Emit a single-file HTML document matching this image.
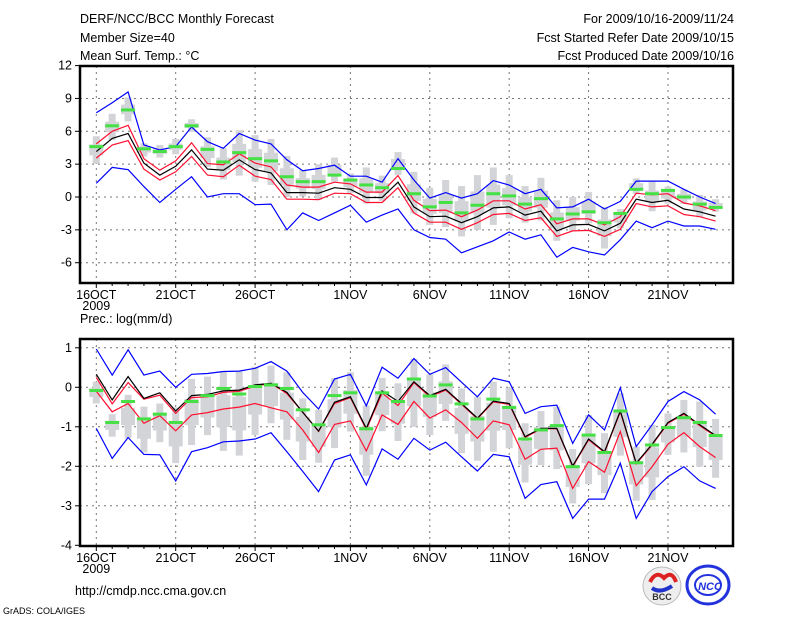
<!DOCTYPE html>
<html><head><meta charset="utf-8"><style>
body{margin:0;background:#fff;width:800px;height:618px;overflow:hidden;font-family:"Liberation Sans",sans-serif}
svg text{font-family:"Liberation Sans",sans-serif;font-size:12.5px;fill:#000}
</style></head><body>
<svg id="chart" width="800" height="618" viewBox="0 0 800 618">
<text x="80" y="23">DERF/NCC/BCC Monthly Forecast</text>
<text x="80" y="42">Member Size=40</text>
<text x="80" y="60">Mean Surf. Temp.: °C</text>
<text x="734" y="23" text-anchor="end">For 2009/10/16-2009/11/24</text>
<text x="734" y="42" text-anchor="end">Fcst Started Refer Date 2009/10/15</text>
<text x="734" y="60" text-anchor="end">Fcst Produced Date 2009/10/16</text>
<text x="80" y="323">Prec.: log(mm/d)</text>
<text x="75" y="595">http://cmdp.ncc.cma.gov.cn</text>
<text x="3" y="614" style="font-size:9px">GrADS: COLA/IGES</text>
<g>
<circle cx="662" cy="586" r="19" fill="#eee" stroke="#bbb"/>
<path d="M650 582 q6 -12 14 -4 q8 -8 12 4" stroke="#d22" stroke-width="4" fill="none"/>
<path d="M652 588 q8 6 20 -2" stroke="#23c" stroke-width="4" fill="none"/>
<text x="662" y="600" text-anchor="middle" style="font-size:9px;font-weight:bold;fill:#333">BCC</text>
</g>
<g>
<ellipse cx="708" cy="585" rx="21" ry="19" fill="none" stroke="#23d" stroke-width="3"/>
<ellipse cx="708" cy="585" rx="13" ry="10" fill="#fff" stroke="#23d" stroke-width="2"/>
<text x="710" y="590" text-anchor="middle" style="font-size:11px;font-weight:bold;font-style:italic;fill:#23d">NCC</text>
</g>
</svg>
<script>
// ---- top panel data (temperature) ----
const days=["16OCT","","","","","21OCT","","","","","26OCT","","","","","","1NOV","","","","","6NOV","","","","","11NOV","","","","","16NOV","","","","","21NOV","","",""];
const tTicks=[12,9,6,3,0,-3,-6];
const tBlueHi=[7.7,8.6,9.6,4.75,4.3,4.6,6.4,5.05,4.45,5.8,5.2,4.85,3.4,2.4,2.6,2.9,1.9,1.9,1.35,3.5,1.55,-0.1,0.4,-0.1,0.3,1.5,1.1,0.3,0.7,-1.0,-0.9,-0.2,-1.1,-0.4,1.45,1.45,1.45,0.7,0,-0.6];
const tBlueLo=[1.25,2.7,2.5,0.95,-0.5,0.7,1.85,0,0.3,0.3,-0.7,-0.65,-3.0,-1.45,-2.15,-1.45,-0.75,-2.3,-1.65,-1.1,-3.0,-3.7,-3.85,-5.1,-4.55,-4.0,-3.2,-3.85,-3.45,-5.5,-4.6,-5.0,-5.3,-3.9,-2.2,-2.8,-2.2,-2.65,-2.65,-2.95];
const tMean=[4.15,5.35,5.8,3.1,2.0,2.8,4.3,2.55,2.45,3.4,2.5,2.2,0.4,0.4,0.35,0.85,0.7,-0.05,-0.05,1.35,-0.9,-1.8,-1.75,-2.35,-1.8,-1.0,-0.9,-1.65,-1.3,-3.1,-2.55,-2.5,-3.1,-2.4,-0.2,-0.5,-0.3,-1.1,-1.35,-1.75];
const tRedHi=[4.85,6.0,6.55,3.5,2.45,3.3,4.95,3.05,2.95,3.95,3.1,2.75,1.1,0.9,0.9,1.35,1.2,0.45,0.45,1.95,-0.3,-1.25,-1.2,-1.8,-1.2,-0.35,-0.35,-1.1,-0.7,-2.45,-2.0,-2.0,-2.55,-1.8,0.35,0.2,0.3,-0.55,-0.8,-1.25];
const tRedLo=[3.55,4.75,5.15,2.55,1.55,2.3,3.7,2.0,1.85,2.9,1.9,1.6,-0.2,-0.2,-0.25,0.35,0.3,-0.5,-0.5,0.85,-1.45,-2.3,-2.3,-2.95,-2.35,-1.6,-1.5,-2.15,-1.9,-3.6,-3.1,-3.05,-3.6,-2.95,-0.6,-0.9,-0.8,-1.6,-1.8,-2.2];
const tGreen=[4.6,6.5,7.95,4.4,4.15,4.6,6.5,4.35,3.2,4.05,3.5,3.3,1.85,1.4,1.4,2.0,1.55,1.1,0.85,2.6,0.3,-0.9,-0.5,-1.45,-0.75,0.3,0.1,-0.65,-0.15,-2.0,-1.55,-1.35,-2.35,-1.5,0.7,0.3,0.6,0,-0.65,-0.95];
const tBarHi=[5.55,7.6,9.1,4.9,4.75,5.3,7.1,5.45,4.45,6.1,5.65,5.3,3.75,2.45,3.0,3.6,2.15,2.7,1.95,4.1,2.3,0.85,1.55,1.0,2.0,2.7,2.0,1.0,1.75,-0.3,0,0.45,-0.9,-1.1,1.7,1.4,0.95,0.7,0.2,-0.2];
const tBarLo=[3.05,5.2,6.9,3.7,3.6,3.9,5.95,2.75,1.6,1.95,1.4,1.1,0,0.05,-0.25,1.4,0.35,-0.6,-0.35,2.0,-1.5,-2.55,-2.75,-3.6,-3.0,-2.55,-1.95,-2.35,-2.15,-4.0,-3.1,-2.4,-4.7,-2.85,0.25,-1.3,-0.6,-0.65,-1.85,-1.35];
// ---- bottom panel data (precipitation) ----
const pTicks=[1,0,-1,-2,-3,-4];
const pBlueHi=[0.97,0.31,0.95,0.31,0.41,0,0.33,0.35,0.4,0.41,0.48,0.65,0.41,-0.13,-0.55,0.21,0.33,-0.47,0.51,0.23,0.73,0.33,0.5,0.13,-0.24,0.23,0.14,-0.66,-0.49,-0.45,-1.42,-0.7,-1.08,-0.01,-1.5,-0.95,-0.36,-0.11,-0.32,-0.68];
const pBlueLo=[-1.04,-1.8,-1.27,-1.7,-1.71,-2.37,-1.63,-1.53,-1.38,-1.36,-1.31,-1.15,-1.63,-2.13,-2.64,-1.84,-1.71,-2.47,-1.56,-1.82,-1.29,-1.59,-1.39,-1.76,-2.12,-1.7,-1.76,-2.81,-2.46,-2.39,-3.32,-2.83,-2.83,-1.92,-3.32,-2.64,-2.26,-2.01,-2.37,-2.56];
const pMean=[0.33,-0.32,0.27,-0.28,-0.14,-0.6,-0.21,-0.18,-0.09,-0.07,0.06,0.1,-0.13,-0.63,-1.11,-0.38,-0.24,-1.04,-0.09,-0.36,0.14,-0.21,-0.05,-0.41,-0.78,-0.35,-0.41,-1.25,-1.04,-1.04,-1.99,-1.31,-1.63,-0.6,-1.92,-1.44,-0.89,-0.66,-0.95,-1.22];
const pRedHi=[0.25,-0.42,0.12,-0.3,-0.2,-0.66,-0.26,-0.24,-0.13,-0.1,0.03,0.1,-0.16,-0.63,-1.12,-0.41,-0.26,-1.07,-0.15,-0.46,0.12,-0.24,-0.07,-0.43,-0.8,-0.37,-0.43,-1.27,-1.05,-1.05,-2.01,-1.33,-1.65,-0.62,-1.94,-1.46,-0.91,-0.68,-0.97,-1.24];
const pRedLo=[-0.1,-0.62,-0.41,-0.91,-0.72,-1.1,-0.7,-0.64,-0.55,-0.5,-0.41,-0.52,-0.62,-1.08,-1.65,-0.94,-0.85,-1.61,-0.7,-0.94,-0.36,-0.78,-0.57,-0.89,-1.29,-0.85,-0.95,-1.82,-1.57,-1.54,-2.56,-1.88,-2.15,-1.12,-2.49,-2.01,-1.44,-1.15,-1.5,-1.78];
const pGreen=[-0.08,-0.89,-0.36,-0.8,-0.68,-0.89,-0.36,-0.21,-0.03,-0.17,0.02,0.06,-0.03,-0.57,-0.95,-0.21,-0.14,-1.05,-0.14,-0.36,0.21,-0.22,0.06,-0.42,-0.8,-0.3,-0.51,-1.31,-1.08,-0.97,-2.01,-1.21,-1.65,-0.6,-1.91,-1.46,-1.02,-0.77,-0.89,-1.22];
const pBarHi=[0.14,-0.68,-0.19,-0.49,-0.41,-0.51,0.21,0.27,0.4,0.4,0.52,0.55,0.38,-0.28,-0.57,0.23,0.38,-0.46,0.24,0.1,0.72,0.33,0.58,-0.03,-0.24,0.14,-0.01,-0.91,-0.6,-0.49,-1.56,-0.7,-1.16,-0.15,-1.5,-0.95,-0.66,-0.32,-0.36,-0.8];
const pBarLo=[-0.41,-1.25,-1.29,-1.65,-1.39,-1.92,-1.46,-1.21,-1.61,-1.73,-1.21,-0.91,-1.33,-1.84,-1.91,-1.54,-1.12,-2.24,-1.11,-1.36,-1.0,-1.21,-0.85,-1.67,-1.86,-1.63,-1.54,-2.41,-1.97,-2.07,-2.94,-2.45,-2.68,-1.73,-2.87,-2.85,-1.71,-1.65,-2.01,-2.29];

const NS='http://www.w3.org/2000/svg';
const svg=document.getElementById('chart');
function mk(tag,attrs,parent){const e=document.createElementNS(NS,tag);for(const k in attrs)e.setAttribute(k,attrs[k]);(parent||svg).appendChild(e);return e;}
const X0=96.3,DX=15.88,L=80,R=733;
function xs(d){return X0+d*DX;}

function panel(cfg){
  const g=mk('g',{});
  
  
  const ys=v=>cfg.y0-v*cfg.k;
  // grid
  cfg.ticks.forEach(t=>{
    const y=ys(t);
    if(y>cfg.top+2&&y<cfg.bot-2){const gl=mk('line',{x1:L,x2:R,y1:y,y2:y,stroke:'#777','stroke-dasharray':'2,4'},g);
      
      }
    const tk=mk('line',{x1:L-5,x2:L,y1:y,y2:y,stroke:'#000'},g);
    
    
    const tl=mk('text',{x:L-8,y:y+4,'text-anchor':'end'},g);
    tl.textContent=String(t);
    
    
  });
  days.forEach((lab,d)=>{
    const x=xs(d);
    const mt=mk('line',{x1:x,x2:x,y1:cfg.bot,y2:cfg.bot+(lab?5:3),stroke:'#000'},g);
    
    
    if(lab){
      const vl=mk('line',{x1:x,x2:x,y1:cfg.top,y2:cfg.bot,stroke:'#777','stroke-dasharray':'2,4'},g);
      
      
      const tl=mk('text',{x:x,y:cfg.bot+16,'text-anchor':'middle'},g);
      tl.textContent=lab;
      
      
    }
  });
  const yr=mk('text',{x:xs(0),y:cfg.bot+27,'text-anchor':'middle'},g);
  yr.textContent='2009';
  
  
  // bars
  cfg.hi.forEach((h,d)=>{
    const lo=cfg.lo[d],x=xs(d),y1=ys(h),y2=ys(lo);
    const b=mk('rect',{x:x-3.5,y:y1,width:7,height:y2-y1,fill:'#d3d4d8'},g);
    
    
    const m1=y1+(y2-y1)*0.3,m2=y1+(y2-y1)*0.7;
    const w=mk('rect',{x:x-7,y:m1,width:14,height:m2-m1,fill:'#d3d4d8'},g);
    
    
  });
  // lines
  [[cfg.blueHi,'#0000ff','upper-bound-line'],[cfg.blueLo,'#0000ff','lower-bound-line'],[cfg.redHi,'#ff1030','upper-std-line'],[cfg.redLo,'#ff1030','lower-std-line'],[cfg.mean,'#000','ensemble-mean-line']].forEach(s=>{
    const p=mk('polyline',{points:s[0].map((v,d)=>xs(d).toFixed(1)+','+ys(v).toFixed(1)).join(' '),fill:'none',stroke:s[1],'stroke-width':1.2},g);
    
    
  });
  cfg.green.forEach((v,d)=>{
    const r=mk('rect',{x:xs(d)-7,y:ys(v)-1.5,width:14,height:3,fill:'#44e044'},g);
    
    
  });
  const f=mk('rect',{x:L,y:cfg.top,width:R-L,height:cfg.bot-cfg.top,fill:'none',stroke:'#000','stroke-width':2.5},g);
  
  
}
panel({name:'temperature-panel',top:66,bot:283,y0:197,k:10.95,ticks:tTicks,hi:tBarHi,lo:tBarLo,blueHi:tBlueHi,blueLo:tBlueLo,redHi:tRedHi,redLo:tRedLo,mean:tMean,green:tGreen});
panel({name:'precipitation-panel',top:339,bot:546,y0:387.3,k:39.5,ticks:pTicks,hi:pBarHi,lo:pBarLo,blueHi:pBlueHi,blueLo:pBlueLo,redHi:pRedHi,redLo:pRedLo,mean:pMean,green:pGreen});
</script>
</body></html>
